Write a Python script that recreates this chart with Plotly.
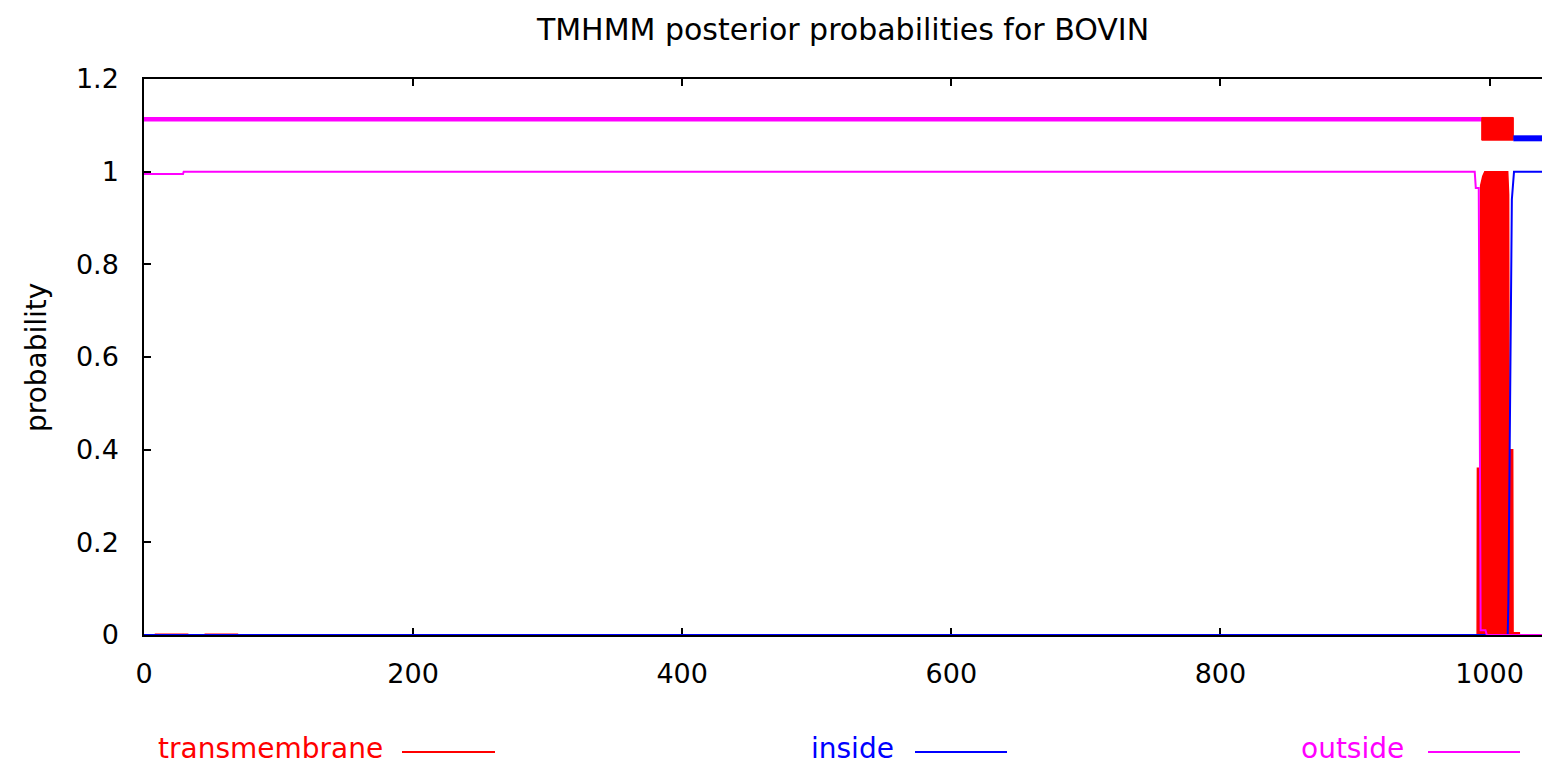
import plotly.graph_objects as go

# ---------------- data ----------------
# posterior probability of "outside" (magenta)
pos_out = [0, 29, 29.5, 989, 989.8, 992, 992.6, 993.4, 997, 998, 1039]
p_out = [0.995, 0.995, 1.0, 1.0, 0.965, 0.965, 0.58, 0.01, 0.01, 0.0, 0.0]

# posterior probability of "inside" (blue)
pos_in = [0, 1013.5, 1014, 1015, 1015.8, 1016.6, 1018.2, 1039]
p_in = [0, 0, 0.07, 0.4, 0.58, 0.94, 1.0, 1.0]

# posterior probability of "transmembrane" (red, filled)
pos_tm = [980, 990.8, 991, 992.8, 993.4, 995, 996.5, 1013.5, 1014.2, 1014.6, 1017.2, 1017.5, 1022.7]
p_tm = [0, 0, 0.36, 0.36, 0.97, 0.99, 1.0, 1.0, 0.95, 0.4, 0.4, 0.005, 0.005]

# small transmembrane traces near the N-terminus
tm_low_segments = [(8, 33), (45, 70)]

# predicted topology drawn above the curves
topo_out = (0, 994.2, 1.113)          # start, end, level
topo_tm = (994.2, 1017.7, 1.068, 1.117)  # start, end, bottom, top
topo_in = (1017.7, 1039, 1.072)

x_ticks = [0, 200, 400, 600, 800, 1000]
y_ticks = [0, 0.2, 0.4, 0.6, 0.8, 1.0, 1.2]

legend_names = ["transmembrane", "inside", "outside"]
legend_colors = ["#ff0000", "#0000ff", "#ff00ff"]

RED, BLUE, MAG = legend_colors

# ---------------- figure ----------------
W, H = 1542, 767
L, R, T, B = 144, 0, 79, 132
PW, PH = W - L - R, H - T - B

fig = go.Figure()

# transmembrane (filled)
fig.add_trace(go.Scatter(x=pos_tm, y=p_tm, mode="lines", fill="tozeroy",
                         line=dict(color=RED, width=1.5), fillcolor=RED,
                         showlegend=False, hoverinfo="skip"))
for a, b in tm_low_segments:
    fig.add_trace(go.Scatter(x=[a, b], y=[0, 0], mode="lines",
                             line=dict(color=RED, width=3),
                             showlegend=False, hoverinfo="skip"))

# inside
fig.add_trace(go.Scatter(x=pos_in, y=p_in, mode="lines",
                         line=dict(color=BLUE, width=2),
                         showlegend=False, hoverinfo="skip"))
# outside
fig.add_trace(go.Scatter(x=pos_out, y=p_out, mode="lines",
                         line=dict(color=MAG, width=2),
                         showlegend=False, hoverinfo="skip"))

# topology
fig.add_trace(go.Scatter(x=[topo_out[0], topo_out[1]], y=[topo_out[2], topo_out[2]],
                         mode="lines", line=dict(color=MAG, width=4.5),
                         showlegend=False, hoverinfo="skip"))
fig.add_trace(go.Scatter(x=[topo_tm[0], topo_tm[1], topo_tm[1], topo_tm[0], topo_tm[0]],
                         y=[topo_tm[2], topo_tm[2], topo_tm[3], topo_tm[3], topo_tm[2]],
                         mode="lines", fill="toself", fillcolor=RED,
                         line=dict(color=RED, width=1),
                         showlegend=False, hoverinfo="skip"))
fig.add_trace(go.Scatter(x=[topo_in[0], topo_in[1]], y=[topo_in[2], topo_in[2]],
                         mode="lines", line=dict(color=BLUE, width=6),
                         showlegend=False, hoverinfo="skip"))

FONT = "DejaVu Sans"

def px_x(px):
    return (px - L) / PW

def px_y(py):
    return (H - B - py) / PH

# custom legend (text then sample line, gnuplot style)
text_right = [385, 896, 1406]
line_span = [(402, 495), (915, 1007), (1428, 1520)]
for name, col, tr, (x0, x1) in zip(legend_names, legend_colors, text_right, line_span):
    fig.add_annotation(text=name, xref="paper", yref="paper",
                       x=px_x(tr), y=px_y(748), xanchor="right", yanchor="middle",
                       showarrow=False, font=dict(family=FONT, size=28, color=col))
    fig.add_shape(type="line", xref="paper", yref="paper",
                  x0=px_x(x0), x1=px_x(x1), y0=px_y(752), y1=px_y(752),
                  line=dict(color=col, width=2))

# y-axis label
fig.add_annotation(text="probability", xref="paper", yref="paper",
                   x=px_x(36), y=px_y(357), xanchor="center", yanchor="middle",
                   textangle=-90, showarrow=False,
                   font=dict(family=FONT, size=28, color="black"))

fig.update_layout(
    width=W, height=H,
    margin=dict(l=L, r=R, t=T, b=B, pad=0),
    paper_bgcolor="white", plot_bgcolor="white",
    font=dict(family=FONT, size=27, color="black"),
    title=dict(text="TMHMM posterior probabilities for BOVIN",
               x=0.5, xref="paper", xanchor="center",
               y=1 - 29 / H, yref="container", yanchor="middle",
               font=dict(family=FONT, size=30, color="black")),
    showlegend=False,
)
fig.update_xaxes(range=[0, 1039], tickvals=x_ticks, ticks="inside", ticklen=7,
                 tickwidth=1.5, tickcolor="black", showline=True, linecolor="black",
                 linewidth=1.5, mirror="ticks", showgrid=False, zeroline=False,
                 ticklabelstandoff=14, layer="below traces",
                 tickfont=dict(family=FONT, size=27, color="black"))
fig.update_yaxes(range=[0, 1.2], tickvals=y_ticks, ticks="inside", ticklen=7,
                 tickwidth=1.5, tickcolor="black", showline=True, linecolor="black",
                 linewidth=1.5, mirror=False, showgrid=False, zeroline=False,
                 ticklabelstandoff=18, layer="below traces",
                 tickfont=dict(family=FONT, size=27, color="black"))

fig.write_html("out.html")
